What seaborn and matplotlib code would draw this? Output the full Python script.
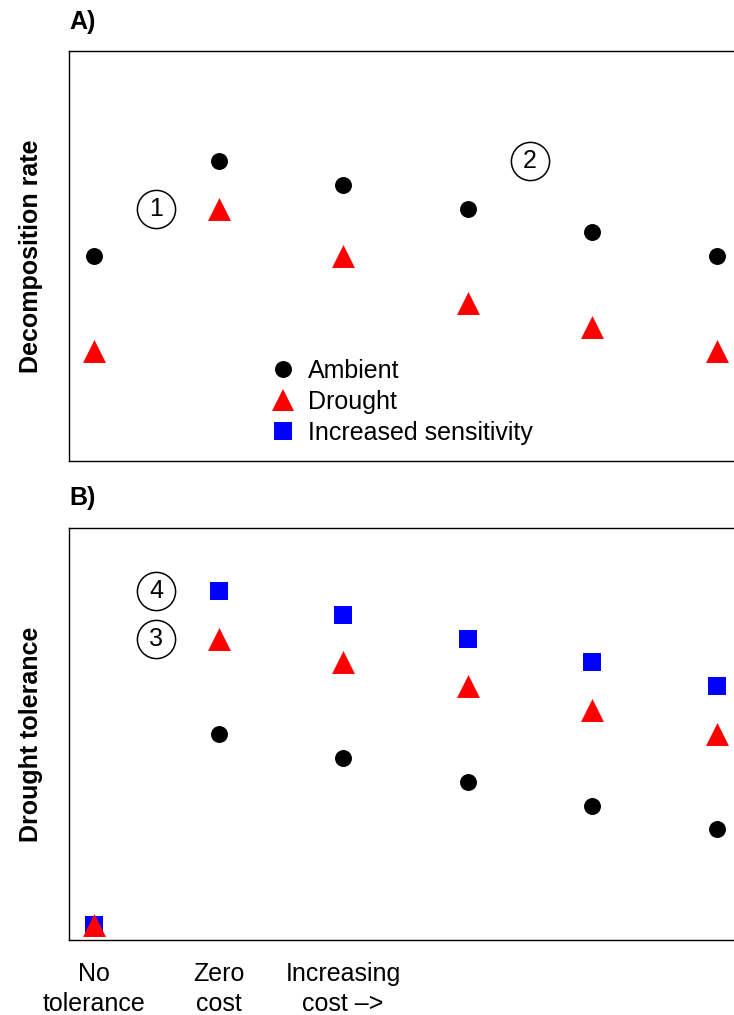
import matplotlib
matplotlib.use("Agg")
import matplotlib.pyplot as plt
import seaborn as sns
import pandas as pd
from matplotlib.lines import Line2D

# ---- data ----
x_pos = [1, 2, 3, 4, 5, 6]
tick_labels = ["No\ntolerance", "Zero\ncost", "Increasing\ncost \u2013>", "", "", ""]

decomp_ambient = [10, 14, 13, 12, 11, 10]
decomp_drought = [6, 12, 10, 8, 7, 6]

tol_ambient = [0, 8, 7, 6, 5, 4]
tol_drought = [0, 12, 11, 10, 9, 8]
tol_sensitive = [0, 14, 13, 12, 11, 10]

annot_A = [("1", 1.5, 12), ("2", 4.5, 14)]
annot_B = [("4", 1.5, 14), ("3", 1.5, 12)]

series_names = ["Ambient", "Drought", "Increased sensitivity"]
colors = {"Ambient": "black", "Drought": "#ff0000", "Increased sensitivity": "#0000ff"}
markers = {"Ambient": "o", "Drought": "^", "Increased sensitivity": "s"}
msize = {"Ambient": 12.2, "Drought": 16.5, "Increased sensitivity": 13}

sns.set_theme(style="white")
plt.rcParams["font.family"] = ["Liberation Sans", "DejaVu Sans"]
plt.rcParams["text.color"] = "black"
plt.rcParams["axes.labelcolor"] = "black"
plt.rcParams["xtick.color"] = "black"
plt.rcParams["ytick.color"] = "black"
FS = 18

W, H = 734, 1015
fig = plt.figure(figsize=(W / 100, H / 100), dpi=100)

def px_axes(left, top, right, bottom):
    return fig.add_axes([left / W, 1 - bottom / H, (right - left) / W, (bottom - top) / H])

axA = px_axes(69, 51, 742, 461)
axB = px_axes(69, 528, 742, 940)

def draw(ax, data):
    for name, vals in data:
        df = pd.DataFrame({"x": x_pos, "y": vals})
        sns.scatterplot(data=df, x="x", y="y", ax=ax, marker=markers[name],
                        color=colors[name], s=msize[name] ** 2, linewidth=0,
                        legend=False, zorder=3)

draw(axA, [("Ambient", decomp_ambient), ("Drought", decomp_drought)])
draw(axB, [("Ambient", tol_ambient), ("Increased sensitivity", tol_sensitive),
           ("Drought", tol_drought)])

def annotate(ax, items):
    for label, x, y in items:
        ax.plot([x], [y], marker="o", markersize=27.5, markerfacecolor="none",
                markeredgecolor="black", markeredgewidth=1.1, zorder=2)
        ax.text(x, y, label, ha="center", va="center", fontsize=FS, zorder=3)

annotate(axA, annot_A)
annotate(axB, annot_B)

for ax, lo, hi in [(axA, 2, 18), (axB, 0, 16)]:
    pad = (hi - lo) * 0.04
    ax.set_ylim(lo - pad, hi + pad)
    ax.set_xlim(0.8, 6.2)
    ax.set_yticks([])
    ax.set_xlabel("")
    ax.set_ylabel("")
    for sp in ax.spines.values():
        sp.set_visible(True)
        sp.set_color("black")
        sp.set_linewidth(1.0)
    ax.set_facecolor("white")

axA.set_xticks([])
axB.set_xticks(x_pos)
axB.set_xticklabels(tick_labels, fontsize=FS, linespacing=1.3)
axB.tick_params(axis="x", length=0, pad=16)

axA.set_ylabel("Decomposition rate", fontsize=FS, fontweight="bold")
axB.set_ylabel("Drought tolerance", fontsize=FS, fontweight="bold")
axA.yaxis.set_label_coords(-0.038, 0.5)
axB.yaxis.set_label_coords(-0.038, 0.5)

fig.text(69 / W, 1 - 22 / H, "A)", fontsize=FS, fontweight="bold", ha="left", va="center")
fig.text(69 / W, 1 - 498 / H, "B)", fontsize=FS, fontweight="bold", ha="left", va="center")

handles = [Line2D([], [], linestyle="none", marker=markers[n], color=colors[n],
                  markersize=msize[n], markeredgewidth=0) for n in series_names]
axA.legend(handles, series_names, fontsize=FS, frameon=False, handlelength=1.0,
           handletextpad=0.5, labelspacing=0.28, borderpad=0, borderaxespad=0,
           loc="upper left", bbox_to_anchor=(270 / W, 1 - 359 / H),
           bbox_transform=fig.transFigure)

fig.savefig("out.png", dpi=100, facecolor="white")
